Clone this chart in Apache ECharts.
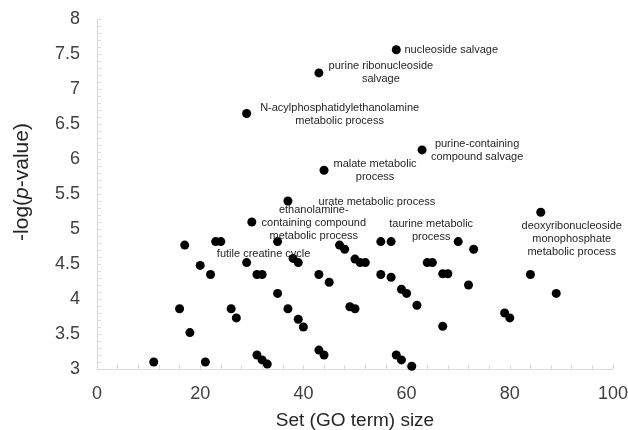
<!DOCTYPE html>
<html>
<head>
<meta charset="utf-8">
<script src="https://cdn.jsdelivr.net/npm/echarts@6/dist/echarts.min.js"></script>
<style>
  html, body { margin: 0; padding: 0; background: #fff; }
  #main { width: 628px; height: 430px; }
</style>
</head>
<body>
<div id="main"></div>
<script>
// set size of each GO term and its -log(p-value)
const setSize = [11, 16, 17, 18, 20, 21, 22, 23, 24, 26, 27, 29, 29, 30, 31, 31, 32, 32, 33, 35,
  35, 37, 37, 38, 39, 39, 40, 43, 43, 43, 44, 44, 45, 47, 48, 49, 50, 50, 51, 52,
  55, 55, 57, 57, 58, 58, 59, 59, 60, 61, 62, 63, 64, 65, 67, 67, 68, 70, 72, 73,
  79, 80, 84, 86, 89]
const logP = [3.10, 3.86, 4.77, 3.52, 4.48, 3.10, 4.35, 4.82, 4.82, 3.86, 3.73, 4.52, 6.65, 5.10, 4.35, 3.20, 4.35, 3.13, 3.07, 4.82,
  4.08, 5.40, 3.86, 4.58, 4.52, 3.71, 3.60, 7.23, 4.35, 3.27, 5.84, 3.20, 4.24, 4.77, 4.71, 3.89, 4.57, 3.86, 4.52, 4.52,
  4.82, 4.35, 4.82, 4.31, 7.56, 3.20, 4.14, 3.13, 4.08, 3.04, 3.91, 6.13, 4.52, 4.52, 4.36, 3.61, 4.36, 4.82, 4.20, 4.71,
  3.80, 3.73, 4.35, 5.24, 4.08]

// labelled terms: index into the arrays above
const termIndex = [44, 27, 12, 51, 30, 21, 13, 11, 57, 63]
const termName = [
  'nucleoside salvage',
  'purine ribonucleoside\nsalvage',
  'N-acylphosphatidylethanolamine\nmetabolic process',
  'purine-containing\ncompound salvage',
  'malate metabolic\nprocess',
  'urate metabolic process',
  'ethanolamine-\ncontaining compound\nmetabolic process',
  'futile creatine cycle',
  'taurine metabolic\nprocess',
  'deoxyribonucleoside\nmonophosphate\nmetabolic process'
]
// label centre relative to the dot centre, px
const termOffset = [[55, 0], [62, 0], [93, 1], [55, 1], [51, 0], [89, 1], [62, 1], [17, -9], [-27, -11], [31, 27]]

const dotSize = 9
const font = 'Liberation Sans, Arial, sans-serif'
const axisGray = '#d9d9d9'

const chart = echarts.init(document.getElementById('main'))

const points = setSize.map((x, i) => {
  const item = { value: [x, logP[i]] }
  const k = termIndex.indexOf(i)
  if (k >= 0) {
    item.label = {
      show: true,
      formatter: termName[k],
      position: [dotSize / 2 + termOffset[k][0], dotSize / 2 + termOffset[k][1]],
      align: 'center',
      verticalAlign: 'middle',
      fontSize: 11,
      lineHeight: 13,
      color: '#262626',
      fontFamily: font
    }
  }
  return item
})

chart.setOption({
  animation: false,
  grid: { left: 97, right: 15, top: 19, bottom: 61, outerBoundsMode: 'none' },
  xAxis: {
    type: 'value',
    min: 0, max: 100, interval: 20,
    name: 'Set (GO term) size',
    nameLocation: 'middle',
    nameGap: 42,
    nameTextStyle: { fontSize: 19, color: '#262626', fontFamily: font },
    axisLine: { lineStyle: { color: axisGray } },
    axisTick: { show: true, inside: true, length: 4, lineStyle: { color: axisGray } },
    minorTick: { show: true, splitNumber: 5, length: 4, lineStyle: { color: axisGray } },
    axisLabel: { fontSize: 18, color: '#404040', margin: 16, fontFamily: font },
    splitLine: { show: false }
  },
  yAxis: {
    type: 'value',
    min: 3, max: 8, interval: 0.5,
    name: '-log({i|p}-value)',
    nameLocation: 'middle',
    nameGap: 64,
    nameTextStyle: {
      fontSize: 21, color: '#262626', fontFamily: font, padding: [0, 0, 0, 24],
      rich: { i: { fontSize: 21, fontStyle: 'italic', color: '#262626', fontFamily: font } }
    },
    axisLine: { show: true, lineStyle: { color: axisGray } },
    axisTick: { show: true, inside: true, length: 4, lineStyle: { color: axisGray } },
    minorTick: { show: true, splitNumber: 5, length: 4, lineStyle: { color: axisGray } },
    axisLabel: { fontSize: 18, color: '#404040', margin: 17, fontFamily: font },
    splitLine: { show: false }
  },
  series: [{
    type: 'scatter',
    symbol: 'circle',
    symbolSize: dotSize,
    itemStyle: { color: '#000', opacity: 1 },
    labelLayout: { hideOverlap: false },
    data: points
  }]
})
</script>
</body>
</html>
